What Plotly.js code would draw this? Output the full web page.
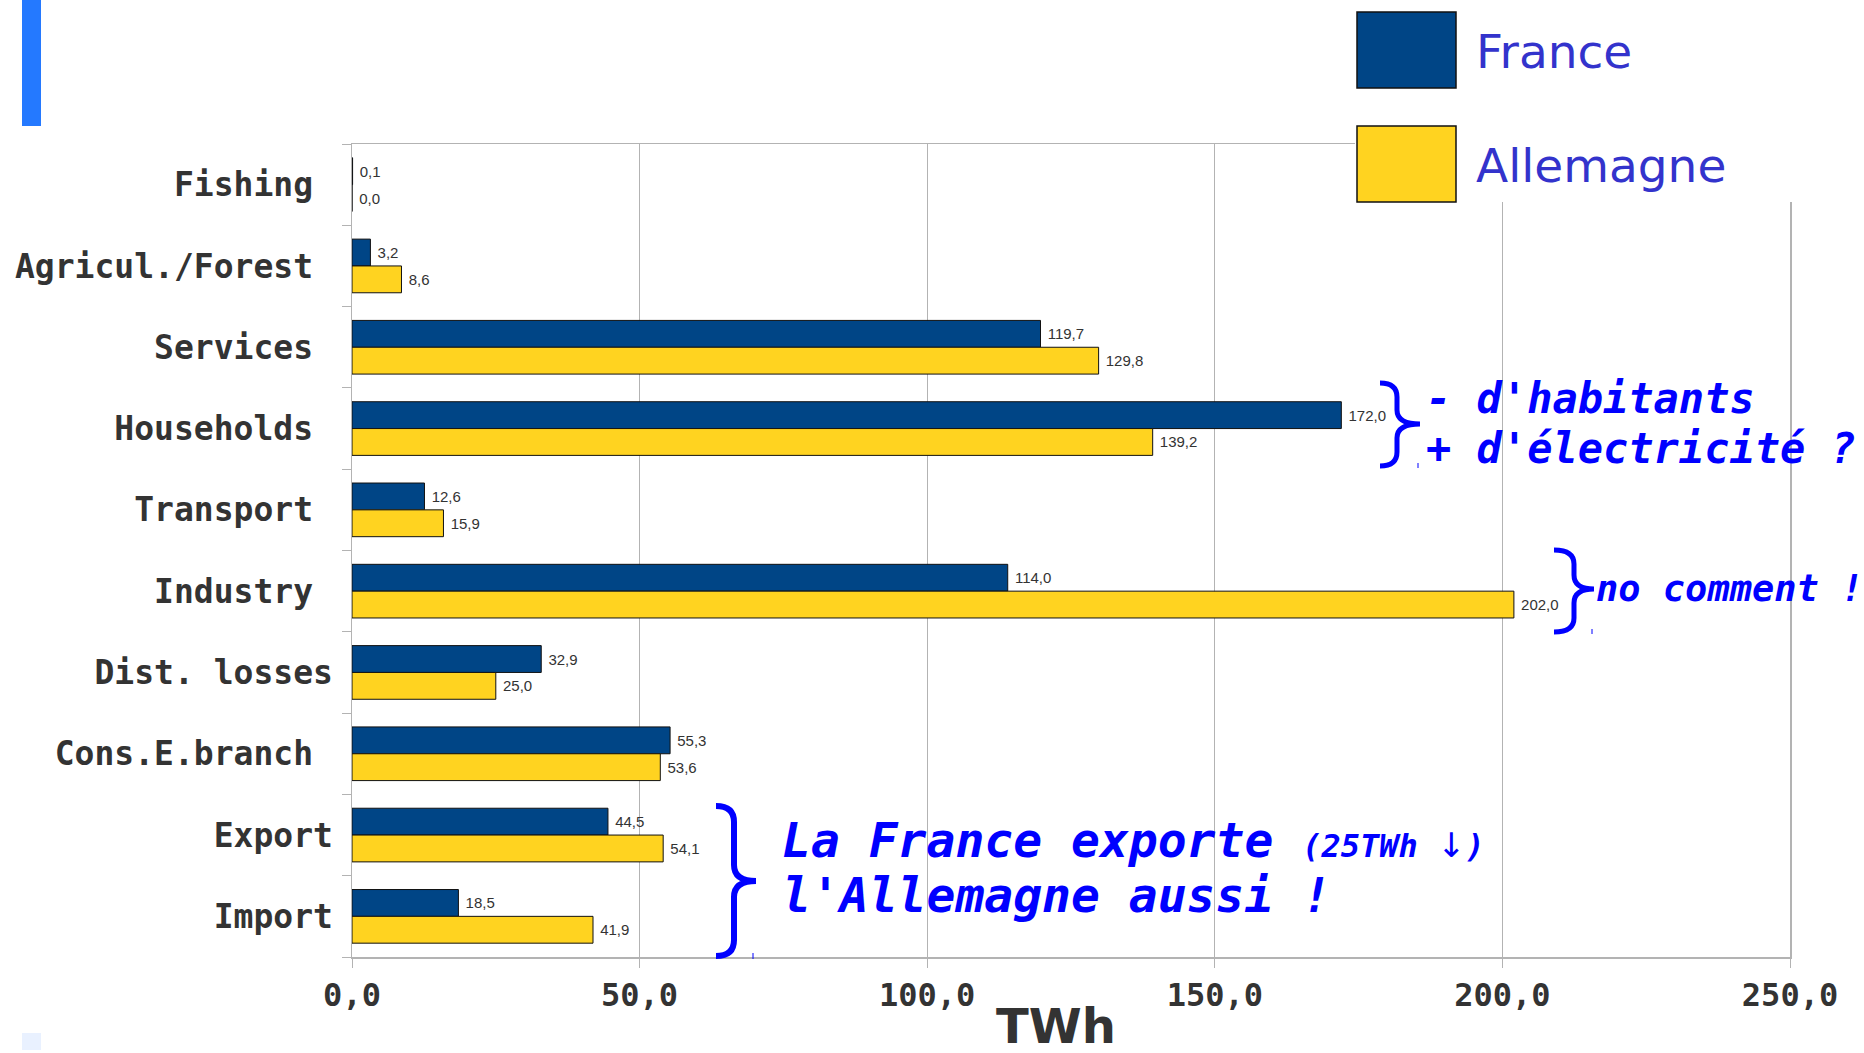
<!DOCTYPE html>
<html>
<head>
<meta charset="utf-8">
<script src="https://cdn.plot.ly/plotly-3.0.1.min.js"></script>
<style>
html,body{margin:0;padding:0;background:#fff;}
#chart{width:1864px;height:1053px;}
</style>
</head>
<body>
<div id="chart"></div>
<script>
// ---- data ----
const categories = ['Fishing','Agricul./Forest','Services','Households','Transport','Industry','Dist. losses','Cons.E.branch','Export','Import'];
const categoryTickLabels = ['Fishing ','Agricul./Forest ','Services ','Households ','Transport ','Industry ','Dist. losses','Cons.E.branch ','Export','Import'];
const seriesNames = ['France','Allemagne'];
const franceValues    = [0.1, 3.2, 119.7, 172.0, 12.6, 114.0, 32.9, 55.3, 44.5, 18.5];
const allemagneValues = [0.0, 8.6, 129.8, 139.2, 15.9, 202.0, 25.0, 53.6, 54.1, 41.9];
const xTickValues = [0, 50, 100, 150, 200, 250];
const xAxisTitle = 'TWh';

// ---- layout geometry (pixels) ----
const W = 1864, H = 1053;
const PL = 352, PR = 1790, PT = 144, PB = 957;
const px = x => (x - PL) / (PR - PL);
const py = y => (PB - y) / (PB - PT);

const seriesColors = ['#004586', '#ffd320'];
const seriesValues = [franceValues, allemagneValues];
const fmt = v => '\u00a0' + v.toFixed(1).replace('.', ',');

const traces = seriesNames.map((name, i) => ({
  type: 'bar',
  orientation: 'h',
  name: name,
  y: categories,
  x: seriesValues[i],
  text: seriesValues[i].map(fmt),
  textposition: 'outside',
  cliponaxis: false,
  constraintext: 'none',
  textfont: {family: 'Liberation Sans, Arial, sans-serif', size: 15, color: '#333333'},
  marker: {color: seriesColors[i], line: {color: '#111111', width: 1}},
  showlegend: false,
  hoverinfo: 'skip'
}));

const blue = '#0000ff';
const annoFont = size => ({family: 'DejaVu Sans Mono, monospace', size: size, color: blue, weight: 'bold', style: 'italic'});

function bracePath(L, S, T, y0, ym, y1, r) {
  const P = (x, y) => px(x).toFixed(5) + ',' + py(y).toFixed(5);
  return 'M' + P(L, y0) +
    ' Q' + P(S, y0) + ' ' + P(S, y0 + r) +
    ' L' + P(S, ym - r) +
    ' Q' + P(S, ym) + ' ' + P(T, ym) +
    ' Q' + P(S, ym) + ' ' + P(S, ym + r) +
    ' L' + P(S, y1 - r) +
    ' Q' + P(S, y1) + ' ' + P(L, y1);
}

const shapes = [
  // slide decorations
  {type: 'rect', xref: 'paper', yref: 'paper', x0: px(22), x1: px(41), y0: py(0), y1: py(126),
   fillcolor: '#2479ff', line: {width: 0}, layer: 'above'},
  {type: 'rect', xref: 'paper', yref: 'paper', x0: px(22), x1: px(41), y0: py(1033), y1: py(1050),
   fillcolor: '#e9f1ff', line: {width: 0}, layer: 'above'},
  // legend background
  {type: 'rect', xref: 'paper', yref: 'paper', x0: px(1355), x1: px(1864), y0: py(0), y1: py(202),
   fillcolor: '#ffffff', line: {width: 0}, layer: 'above'},
  // braces
  {type: 'path', xref: 'paper', yref: 'paper', path: bracePath(1380, 1397, 1420, 383, 424, 466, 14),
   line: {color: blue, width: 5}, layer: 'above'},
  {type: 'path', xref: 'paper', yref: 'paper', path: bracePath(1554, 1574, 1594, 550, 589, 632, 14),
   line: {color: blue, width: 5}, layer: 'above'},
  {type: 'path', xref: 'paper', yref: 'paper', path: bracePath(716, 734, 756, 806, 881, 956, 16),
   line: {color: blue, width: 6}, layer: 'above'},
  // tiny marks
  {type: 'line', xref: 'paper', yref: 'paper', x0: px(1418), x1: px(1418), y0: py(463), y1: py(468), line: {color: blue, width: 1}, layer: 'above'},
  {type: 'line', xref: 'paper', yref: 'paper', x0: px(1592), x1: px(1592), y0: py(629), y1: py(634), line: {color: blue, width: 1}, layer: 'above'},
  {type: 'line', xref: 'paper', yref: 'paper', x0: px(753), x1: px(753), y0: py(953), y1: py(959), line: {color: blue, width: 1}, layer: 'above'}
];

// manual legend with large swatches
const legendTop = [12, 126];
seriesNames.forEach((name, i) => {
  shapes.push({type: 'rect', xref: 'paper', yref: 'paper',
    x0: px(1357), x1: px(1456), y0: py(legendTop[i]), y1: py(legendTop[i] + 76),
    fillcolor: seriesColors[i], line: {color: '#111111', width: 1.5}, layer: 'above'});
});

const annotations = [
  {xref: 'paper', yref: 'paper', x: px(1424), y: py(398), xanchor: 'left', yanchor: 'middle', showarrow: false,
   text: "- d'habitants", font: annoFont(42)},
  {xref: 'paper', yref: 'paper', x: px(1424), y: py(448), xanchor: 'left', yanchor: 'middle', showarrow: false,
   text: "+ d'électricité ?", font: annoFont(42)},
  {xref: 'paper', yref: 'paper', x: px(1594), y: py(588), xanchor: 'left', yanchor: 'middle', showarrow: false,
   text: 'no comment !', font: annoFont(37)},
  {xref: 'paper', yref: 'paper', x: px(780), y: py(840), xanchor: 'left', yanchor: 'middle', showarrow: false,
   text: "La France exporte <span style='font-size:32px'>(25TWh <span style='font-family:DejaVu Sans;font-weight:normal;font-style:normal;font-size:34px'>↓</span>)</span>",
   font: annoFont(48)},
  {xref: 'paper', yref: 'paper', x: px(780), y: py(895), xanchor: 'left', yanchor: 'middle', showarrow: false,
   text: "l'Allemagne aussi !", font: annoFont(48)},
  // x axis title
  {xref: 'paper', yref: 'paper', x: px(1056), y: py(1026), xanchor: 'center', yanchor: 'middle', showarrow: false,
   text: xAxisTitle, font: {family: 'DejaVu Sans, sans-serif', size: 48, color: '#333333', weight: 'bold'}}
];
const legendTextY = [51, 165];
seriesNames.forEach((name, i) => {
  annotations.push({xref: 'paper', yref: 'paper', x: px(1474), y: py(legendTextY[i]), xanchor: 'left', yanchor: 'middle',
    showarrow: false, text: name, font: {family: 'DejaVu Sans, sans-serif', size: 47, color: '#3333cc'}});
});

const layout = {
  width: W, height: H,
  margin: {l: PL, r: W - PR, t: PT, b: H - PB, pad: 0},
  paper_bgcolor: '#ffffff', plot_bgcolor: '#ffffff',
  separators: ', ',
  barmode: 'group', bargap: 0.34, bargroupgap: 0,
  showlegend: false,
  xaxis: {
    range: [0, 250], tickvals: xTickValues, tickformat: '.1f',
    showgrid: true, gridcolor: '#b3b3b3', gridwidth: 1,
    showline: true, linecolor: '#b3b3b3', linewidth: 1.5, mirror: true,
    ticks: 'outside', ticklen: 9, tickcolor: '#b3b3b3', tickwidth: 1,
    zeroline: false, automargin: false,
    tickfont: {family: 'DejaVu Sans Mono, monospace', size: 32, color: '#333333', weight: 'bold'},
    ticklabelstandoff: 0
  },
  yaxis: {
    type: 'category', autorange: 'reversed',
    tickvals: categories, ticktext: categoryTickLabels.map(s => s.replace(/ $/, '\u00a0')),
    showgrid: false, zeroline: false,
    showline: true, linecolor: '#b3b3b3', linewidth: 1.5, mirror: true,
    ticks: 'outside', tickson: 'boundaries', ticklen: 9, tickcolor: '#b3b3b3', tickwidth: 1,
    ticklabelstandoff: 11,
    automargin: false,
    tickfont: {family: 'DejaVu Sans Mono, monospace', size: 33, color: '#333333', weight: 'bold'}
  },
  shapes: shapes,
  annotations: annotations
};

Plotly.newPlot('chart', traces, layout, {staticPlot: true, displayModeBar: false});
</script>
</body>
</html>
